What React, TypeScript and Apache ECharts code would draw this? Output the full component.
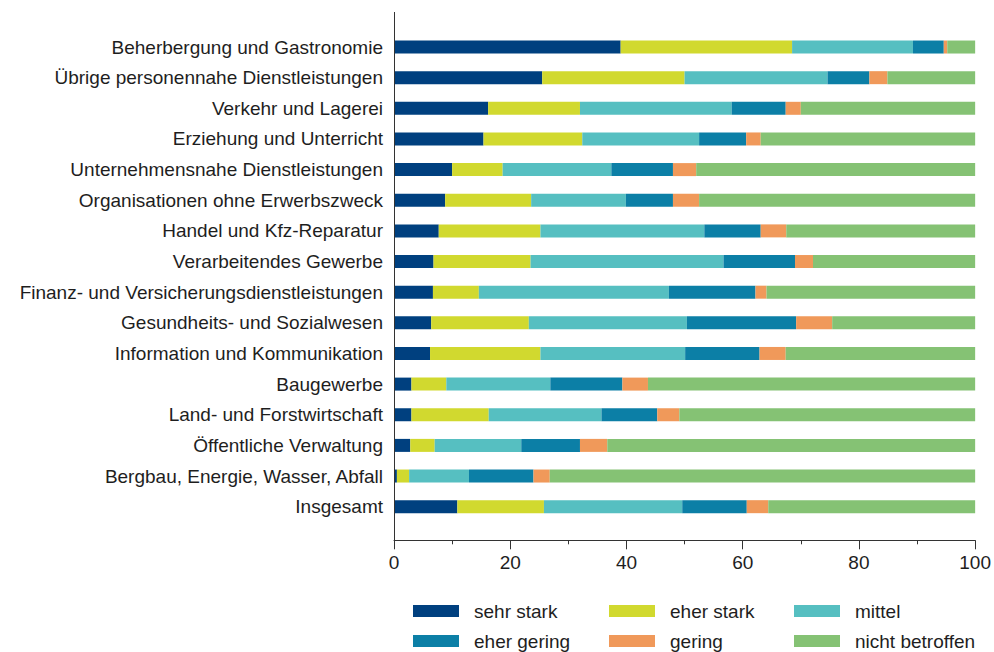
import React, { useEffect, useRef } from "react";
import * as echarts from "echarts";

const categories = [
  "Beherbergung und Gastronomie",
  "Übrige personennahe Dienstleistungen",
  "Verkehr und Lagerei",
  "Erziehung und Unterricht",
  "Unternehmensnahe Dienstleistungen",
  "Organisationen ohne Erwerbszweck",
  "Handel und Kfz-Reparatur",
  "Verarbeitendes Gewerbe",
  "Finanz- und Versicherungsdienstleistungen",
  "Gesundheits- und Sozialwesen",
  "Information und Kommunikation",
  "Baugewerbe",
  "Land- und Forstwirtschaft",
  "Öffentliche Verwaltung",
  "Bergbau, Energie, Wasser, Abfall",
  "Insgesamt",
];

const seriesNames = ["sehr stark", "eher stark", "mittel", "eher gering", "gering", "nicht betroffen"];

const sehrStark = [39.0, 25.5, 16.2, 15.4, 10.0, 8.8, 7.7, 6.8, 6.7, 6.4, 6.2, 3.0, 3.0, 2.8, 0.5, 10.9];
const eherStark = [29.5, 24.5, 15.8, 17.0, 8.7, 14.8, 17.5, 16.7, 7.9, 16.8, 19.0, 6.0, 13.3, 4.2, 2.1, 14.9];
const mittel = [20.8, 24.6, 26.1, 20.1, 18.7, 16.3, 28.2, 33.2, 32.7, 27.2, 24.9, 17.9, 19.4, 14.9, 10.3, 23.8];
const eherGering = [5.3, 7.2, 9.3, 8.1, 10.6, 8.1, 9.7, 12.3, 14.9, 18.8, 12.8, 12.4, 9.6, 10.1, 11.1, 11.1];
const gering = [0.6, 3.1, 2.6, 2.5, 4.0, 4.5, 4.4, 3.1, 1.9, 6.2, 4.5, 4.4, 3.8, 4.7, 2.8, 3.7];
const nichtBetroffen = [4.8, 15.1, 30.0, 36.9, 48.0, 47.5, 32.5, 27.9, 35.9, 24.6, 32.6, 56.3, 50.9, 63.3, 73.2, 35.6];

const colors = ["#00407f", "#d1d92f", "#56bfc1", "#0c7fa6", "#f0995a", "#85c274"];

const seriesData = [sehrStark, eherStark, mittel, eherGering, gering, nichtBetroffen];

// legend grid: column lefts and row centers
const legendCols = [413, 609, 794];
const legendRows = [611, 641];

const FONT = "Liberation Sans, Arial, sans-serif";
const TEXT = "#1e1e1e";

export default function App() {
  const ref = useRef<HTMLDivElement>(null);

  useEffect(() => {
    if (!ref.current) return;
    const chart = echarts.init(ref.current, undefined, { renderer: "svg" });
    const legends = seriesNames.map((name, i) => {
      const col = i % 3;
      const row = Math.floor(i / 3);
      return {
        orient: "horizontal",
        icon: "rect",
        itemWidth: 46,
        itemHeight: 12,
        left: legendCols[col],
        top: legendRows[row] - 10,
        padding: 0,
        selectedMode: false,
        data: [name],
        textStyle: {
          fontFamily: FONT,
          fontSize: 19,
          color: TEXT,
          lineHeight: 20,
          padding: [0, 0, 0, 10],
        },
      };
    });
    chart.setOption({
      animation: false,
      backgroundColor: "#ffffff",
      color: colors,
      grid: { left: 394, right: 18, top: 31.7, height: 490.3, containLabel: false },
      legend: legends,
      xAxis: {
        type: "value",
        min: 0,
        max: 100,
        interval: 20,
        offset: 18.3,
        axisLine: { show: true, lineStyle: { color: "#333", width: 1 } },
        axisTick: { show: true, length: 9, lineStyle: { color: "#333" } },
        minorTick: { show: true, splitNumber: 2, length: 4, lineStyle: { color: "#333" } },
        splitLine: { show: false },
        axisLabel: { fontFamily: FONT, fontSize: 19, color: TEXT, margin: 13 },
      },
      yAxis: {
        type: "category",
        inverse: true,
        data: categories,
        axisLine: { show: false },
        axisTick: { show: false },
        axisLabel: { fontFamily: FONT, fontSize: 19, color: TEXT, margin: 11 },
      },
      graphic: [
        {
          type: "line",
          shape: { x1: 394.5, y1: 12, x2: 394.5, y2: 540.5 },
          style: { stroke: "#333", lineWidth: 1 },
          z: 10,
        },
      ],
      series: seriesNames.map((name, i) => ({
        name,
        type: "bar",
        stack: "total",
        barWidth: 13,
        data: seriesData[i],
        itemStyle: { color: colors[i] },
      })),
    });
    return () => chart.dispose();
  }, []);

  return (
    <div
      ref={ref}
      style={{ position: "fixed", left: 0, top: 0, width: 994, height: 652, background: "#fff" }}
    />
  );
}
